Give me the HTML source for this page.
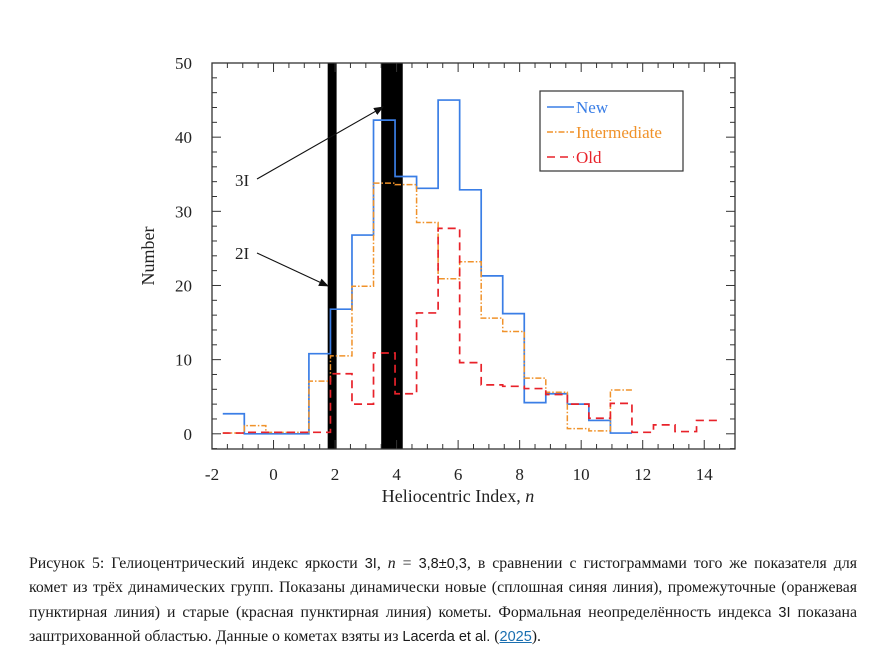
<!DOCTYPE html>
<html><head><meta charset="utf-8">
<style>
html,body{margin:0;padding:0;background:#fff;width:885px;height:667px;overflow:hidden;}
#chart{position:absolute;left:0;top:0;}
.caption{position:absolute;left:29px;top:552px;width:828px;font-family:"Liberation Serif","Noto Serif CJK SC",serif;font-size:15.8px;line-height:24.3px;color:#1a1a1a;}
.caption .ln{text-align:justify;text-align-last:justify;white-space:nowrap;height:24.3px;}
.caption .ln.last{text-align-last:left;}
.caption a{color:#1a6fb0;text-decoration:underline;}
.caption .s{font-family:"Liberation Sans",sans-serif;font-size:14.5px;}
svg text{font-family:"Liberation Serif",serif;}
</style></head>
<body>
<svg id="chart" width="885" height="540" xmlns="http://www.w3.org/2000/svg"></svg>
<div class="caption">
<div class="ln">Рисунок 5: Гелиоцентрический индекс яркости <span class="s">3I</span>, <i>n</i> = <span class="s">3,8±0,3</span>, в сравнении с гистограммами того же показателя для</div>
<div class="ln">комет из трёх динамических групп. Показаны динамически новые (сплошная синяя линия), промежуточные (оранжевая</div>
<div class="ln">пунктирная линия) и старые (красная пунктирная линия) кометы. Формальная неопределённость индекса <span class="s">3I</span> показана</div>
<div class="ln last">заштрихованной областью. Данные о кометах взяты из <span class="s">Lacerda et al.</span> (<a class="s">2025</a>).</div>
</div>
<script>
const binStart = -1.65;
const binWidth = 0.7;
const newCounts = [2.7,0,0,0,10.8,16.8,26.8,42.3,34.7,33.1,45,32.9,21.3,16.2,4.2,5.4,4.0,1.8,0.1];
const interCounts = [0.1,1.1,0.2,0.2,7.1,10.5,19.9,33.8,33.6,28.5,20.9,23.2,15.6,13.8,7.5,5.6,0.7,0.4,5.9];
const oldCounts = [0.1,0.2,0.2,0.2,0.2,8.1,4.0,10.9,5.4,16.3,27.7,9.6,6.6,6.4,6.1,5.3,4.0,2.1,4.1,0.2,1.2,0.3,1.8];
const xTicks = [-2,0,2,4,6,8,10,12,14];
const yTicks = [0,10,20,30,40,50];
const bands = [[1.76,2.05],[3.5,4.2]];

const svg = document.getElementById('chart');
const NS = 'http://www.w3.org/2000/svg';
const L=212,R=735,T=63,B=449;
const xMin=-2,xMax=15,yMin=-2.05,yMax=50;
const X=v=>L+(v-xMin)/(xMax-xMin)*(R-L);
const Y=v=>B-(v-yMin)/(yMax-yMin)*(B-T);
function mk(tag,attrs,parent){const e=document.createElementNS(NS,tag);for(const k in attrs)e.setAttribute(k,attrs[k]);(parent||svg).appendChild(e);return e;}

bands.forEach((b,i)=>{
  const r=mk('rect',{x:X(b[0]),y:T,width:X(b[1])-X(b[0]),height:B-T,fill:'#000'});
  
  
});

function stepPath(counts){
  let d='M'+X(binStart)+','+Y(counts[0]);
  counts.forEach((c,i)=>{
    const x0=X(binStart+i*binWidth),x1=X(binStart+(i+1)*binWidth);
    d+=' L'+x0+','+Y(c)+' L'+x1+','+Y(c);
  });
  return d;
}
const s1=mk('path',{d:stepPath(newCounts),fill:'none',stroke:'#3a7ee6','stroke-width':1.7});


const s2=mk('path',{d:stepPath(interCounts),fill:'none',stroke:'#f0922a','stroke-width':1.5,'stroke-dasharray':'6,2,1.5,2'});


const s3=mk('path',{d:stepPath(oldCounts),fill:'none',stroke:'#e8222a','stroke-width':1.7,'stroke-dasharray':'8,5'});



const fr=mk('rect',{x:L,y:T,width:R-L,height:B-T,fill:'none',stroke:'#333','stroke-width':1.3});



for(let v=-2;v<=15;v+=0.5){
  const major=(v%2===0);const len=major?9:5;
  mk('line',{x1:X(v),x2:X(v),y1:B,y2:B-len,stroke:'#333','stroke-width':1});
  mk('line',{x1:X(v),x2:X(v),y1:T,y2:T+len,stroke:'#333','stroke-width':1});
}
for(let v=-2;v<=50;v+=2){
  const major=(v%10===0);const len=major?9:5;
  mk('line',{x1:L,x2:L+len,y1:Y(v),y2:Y(v),stroke:'#333','stroke-width':1});
  mk('line',{x1:R,x2:R-len,y1:Y(v),y2:Y(v),stroke:'#333','stroke-width':1});
}
xTicks.forEach(v=>{
  const t=mk('text',{x:X(v),y:480,'text-anchor':'middle','font-size':17,fill:'#222'});
  t.textContent=v;
  
  
});
yTicks.forEach(v=>{
  const t=mk('text',{x:192,y:Y(v)+6,'text-anchor':'end','font-size':17,fill:'#222'});
  t.textContent=v;
  
  
});
const xt=mk('text',{x:458,y:502,'text-anchor':'middle','font-size':18,fill:'#222'});
xt.innerHTML='Heliocentric Index, <tspan font-style="italic">n</tspan>';


const yt=mk('text',{x:0,y:0,'text-anchor':'middle','font-size':18,fill:'#222',transform:'translate(154,256) rotate(-90)'});
yt.textContent='Number';



const defs=mk('defs',{});
const m=mk('marker',{id:'ah',markerWidth:10,markerHeight:8,refX:9,refY:4,orient:'auto',markerUnits:'userSpaceOnUse'},defs);
mk('path',{d:'M0,0 L10,4 L0,8 z',fill:'#111'},m);
const a1=mk('line',{x1:257,y1:179,x2:383,y2:107,stroke:'#111','stroke-width':1.1,'marker-end':'url(#ah)'});


const a2=mk('line',{x1:257,y1:253,x2:328,y2:286,stroke:'#111','stroke-width':1.1,'marker-end':'url(#ah)'});


const l1=mk('text',{x:235,y:186,'font-size':17,fill:'#222'});l1.textContent='3I';


const l2=mk('text',{x:235,y:259,'font-size':17,fill:'#222'});l2.textContent='2I';



const lg=mk('g',{});


mk('rect',{x:540,y:91,width:143,height:80,fill:'#fff',stroke:'#333','stroke-width':1.2},lg);
const entries=[['New','#3a7ee6',null,107],['Intermediate','#f0922a','6,2,1.5,2',132],['Old','#e8222a','8,5',157]];
entries.forEach(e=>{
  const g=mk('g',{},lg);
  
  
  const ln=mk('line',{x1:547,x2:574,y1:e[3],y2:e[3],stroke:e[1],'stroke-width':1.6},g);
  if(e[2])ln.setAttribute('stroke-dasharray',e[2]);
  const t=mk('text',{x:576,y:e[3]+6,'font-size':17,fill:e[1]},g);t.textContent=e[0];
});
</script>
</body></html>
